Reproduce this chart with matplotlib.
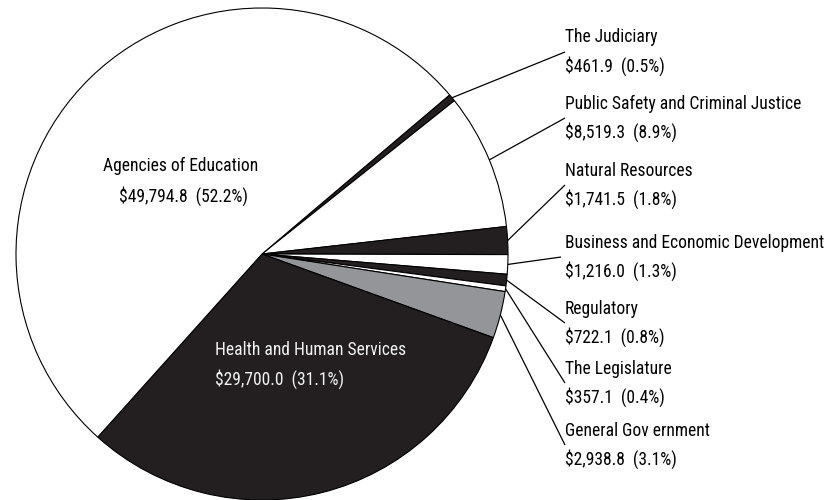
import numpy as np
import matplotlib
matplotlib.use('Agg')
from matplotlib import pyplot as plt
from matplotlib import font_manager

# data, clockwise from the Judiciary slice
names = ['The Judiciary', 'Public Safety and Criminal Justice', 'Natural Resources',
         'Business and Economic Development', 'Regulatory', 'The Legislature',
         'General Gov ernment', 'Health and Human Services', 'Agencies of Education']
amounts = [461.9, 8519.3, 1741.5, 1216.0, 722.1, 357.1, 2938.8, 29700.0, 49794.8]
shares = [0.5, 8.9, 1.8, 1.3, 0.8, 0.4, 3.1, 31.1, 52.2]

BLACK = '#231f20'
GRAY = '#939598'
colors = [BLACK, 'white', BLACK, 'white', BLACK, 'white', GRAY, BLACK, 'white']

# narrowest font we can find
avail = {f.name for f in font_manager.fontManager.ttflist}
prefs = ['Liberation Sans Narrow', 'Roboto Condensed', 'DejaVu Sans Condensed',
         'Open Sans Condensed', 'Noto Sans Condensed', 'Lato', 'Roboto']
fam = [f for f in prefs if f in avail][:1] + ['DejaVu Sans']
plt.rcParams['font.family'] = fam

W, H = 837, 500
fig = plt.figure(figsize=(W / 100, H / 100), dpi=100)
ax = fig.add_axes([0, 0, 1, 1])

# pick a size so the longest label is about as wide as in the reference
renderer = fig.canvas.get_renderer()
probe = fig.text(0, 0, names[1], fontsize=12)
wpx = probe.get_window_extent(renderer).width
probe.remove()
fs = min(14.0, 12 * 236 / wpx)

cx, cy, r = 262, 254, 246
start = 40.3
wedges, _ = ax.pie(amounts, colors=colors, startangle=start, counterclock=False,
                   center=(cx, H - cy), radius=r,
                   wedgeprops=dict(edgecolor='black', linewidth=0.8))
ax.set_xlim(0, W)
ax.set_ylim(0, H)
ax.set_aspect('equal')
ax.axis('off')


def fmt(a, s):
    return f'${a:,.1f}  ({s:.1f}%)'


# outside labels: leader line anchor (pixel coords from top)
anchors = [(565, 52), (565, 118), (565, 185), (561, 257), (565, 323), (565, 383), (565, 445)]
half = 14.5
for i, (lx, ly) in enumerate(anchors):
    w = wedges[i]
    mid = np.deg2rad((w.theta1 + w.theta2) / 2)
    px, py = cx + r * np.cos(mid), (H - cy) + r * np.sin(mid)
    ax.plot([px, lx], [py, H - ly], color='black', lw=0.9, solid_capstyle='butt')
    ax.text(565, H - (ly - half), names[i], ha='left', va='center', fontsize=fs)
    ax.text(565, H - (ly + half), fmt(amounts[i], shares[i]), ha='left', va='center', fontsize=fs)

# inside labels
ax.text(181, H - 166, names[8], ha='center', va='center', fontsize=fs)
ax.text(184, H - 196, fmt(amounts[8], shares[8]), ha='center', va='center', fontsize=fs)
ax.text(215, H - 350, names[7], ha='left', va='center', fontsize=fs, color='#f2f2f2')
ax.text(215, H - 379, fmt(amounts[7], shares[7]), ha='left', va='center', fontsize=fs, color='#f2f2f2')

fig.savefig('out.png', dpi=100)
